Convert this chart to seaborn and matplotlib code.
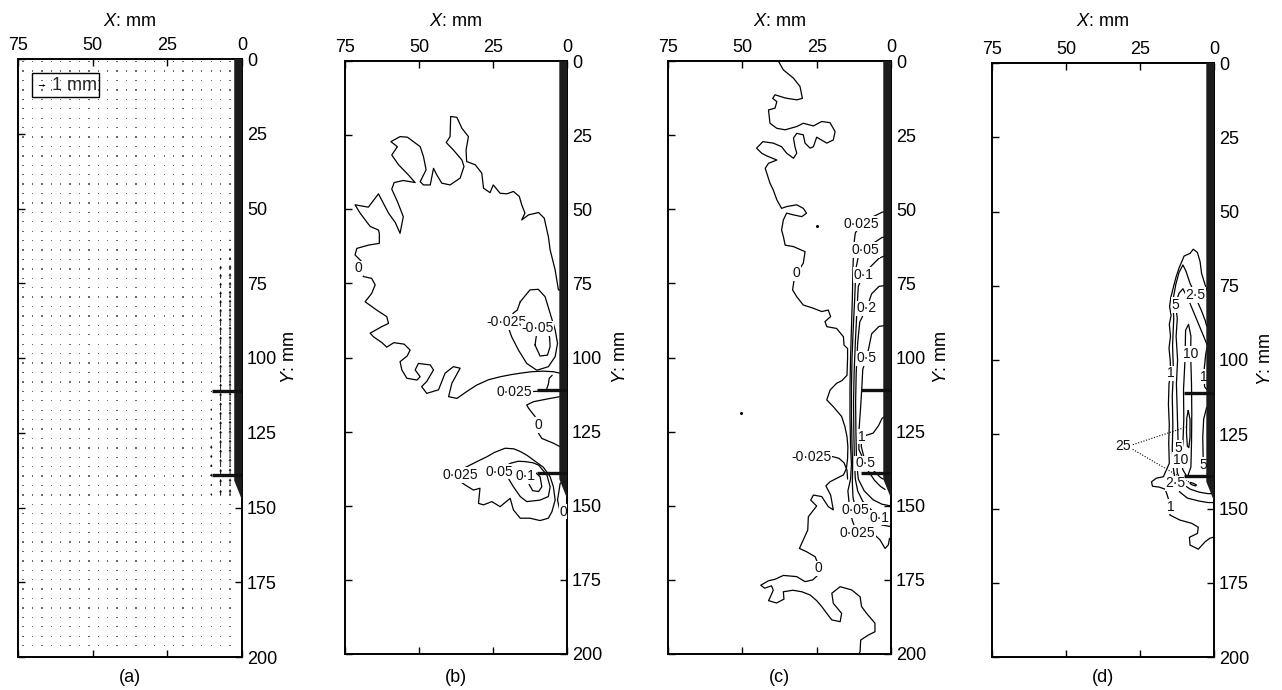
import numpy as np
import pandas as pd
import matplotlib
matplotlib.use("Agg")
import matplotlib.pyplot as plt
from matplotlib.patches import Polygon, Rectangle
import seaborn as sns

sns.set_theme(style="white")
plt.rcParams["font.family"] = ["Liberation Sans", "DejaVu Sans"]
plt.rcParams["mathtext.fontset"] = "custom"
plt.rcParams["mathtext.it"] = "Liberation Sans:italic"
plt.rcParams["mathtext.rm"] = "Liberation Sans"

# ---------------- axes / labels ----------------
X_TICKS = [75, 50, 25, 0]
Y_TICKS = [0, 25, 50, 75, 100, 125, 150, 175, 200]
PANEL_NAMES = ["(a)", "(b)", "(c)", "(d)"]

# wall (thick bar) and the two anchors, mm
WALL_X = [0.0, 2.6, 2.6, 0.0]
WALL_Y = [0.0, 0.0, 141.0, 147.5]
ANCHOR_Y = [111.0, 139.0]
ANCHOR_LEN = 10.0

# ---------------- panel (a): displacement vectors ----------------
GRID_X0, GRID_Y0, GRID_STEP, N_COLS, N_ROWS = 4.0, 0.9, 3.15, 23, 63
WALL_ROW_FIRST = 19          # first grid row carrying visible arrows
DISP_COL_4MM = [0.2, 0.3, 0.4, 0.6, 0.8, 0.9, 1.0, 1.1, 1.2, 1.2, 1.3, 1.3, 1.3, 1.3,
                1.3, 1.3, 1.3, 1.3, 1.3, 1.3, 1.3, 1.3, 1.3, 1.3, 1.3, 1.2, 1.1, 0.9]
DISP_COL_7MM = [0.1, 0.2, 0.3, 0.5, 0.7, 0.8, 0.9, 1.0, 1.1, 1.1, 1.2, 1.2, 1.2, 1.2,
                1.2, 1.2, 1.2, 1.2, 1.2, 1.2, 1.2, 1.2, 1.2, 1.2, 1.2, 1.1, 1.0, 0.8]
DISP_COL_10MM = [0.0, 0.0, 0.0, 0.0, 0.0, 0.0, 0.0, 0.0, 0.0, 0.0, 0.0, 0.0, 0.0, 0.0,
                 0.0, 0.0, 0.1, 0.2, 0.3, 0.3, 0.3, 0.3, 0.4, 0.4, 0.4, 0.4, 0.3, 0.3]

# ---------------- panel (b): contour lines (x mm, y mm) ----------------
B_ZERO_RING = [(0.3, 105.4), (2.3, 105.3), (4.6, 104.8), (8.0, 104.6), (12.0, 104.8), (15.8, 105.3),
               (19.0, 105.8), (22.6, 106.5), (26.5, 107.5), (30.5, 109.3), (33.9, 111.5), (37.2, 113.8),
               (40.0, 113.2), (38.9, 108.7), (36.1, 103.6), (38.4, 103.1), (41.2, 105.3), (43.4, 110.9),
               (47.4, 112.1), (49.1, 109.8), (47.4, 108.1), (45.1, 104.2), (46.2, 102.5), (50.2, 102.0),
               (51.3, 104.2), (49.6, 106.5), (50.7, 107.6), (54.1, 107.0), (55.8, 104.2), (56.4, 101.4),
               (54.0, 99.5), (53.0, 97.5), (55.0, 95.5), (58.5, 95.0), (60.9, 96.5), (62.5, 95.0),
               (65.4, 93.0), (66.5, 91.8), (62.6, 89.6), (60.3, 88.5), (60.9, 86.2), (64.3, 84.0),
               (68.2, 81.2), (66.0, 78.4), (64.8, 75.5), (66.0, 73.3), (68.8, 72.7), (70.4, 69.9),
               (69.3, 67.7), (71.6, 65.4), (71.0, 63.2), (67.1, 62.1), (63.4, 61.5), (63.4, 58.1),
               (63.7, 57.0), (66.5, 55.8), (69.9, 51.3), (71.6, 48.5), (67.1, 49.3), (63.7, 44.8),
               (60.3, 51.3), (58.0, 54.5), (56.4, 58.1), (55.3, 52.5), (57.3, 47.4), (59.2, 43.2),
               (58.4, 41.0), (55.3, 40.3), (51.3, 41.0), (53.6, 38.4), (56.9, 35.0), (59.2, 31.7),
               (57.3, 28.9), (59.5, 27.2), (56.4, 25.5), (53.9, 25.7), (49.6, 28.9), (48.5, 32.2),
               (47.6, 36.7), (49.6, 40.7), (48.5, 41.8), (46.2, 41.8), (45.1, 36.2), (44.0, 38.4),
               (42.3, 41.2), (39.5, 41.8), (36.1, 39.5), (34.8, 35.6), (35.5, 33.4), (38.4, 30.0),
               (40.8, 27.5), (39.5, 25.5), (39.3, 18.7), (37.2, 19.0), (35.5, 22.7), (33.3, 25.5),
               (34.1, 30.0), (33.9, 33.9), (31.0, 35.0), (28.8, 37.8), (28.2, 42.9), (26.0, 44.4),
               (24.9, 41.8), (22.6, 44.6), (20.3, 44.8), (18.1, 44.0), (16.1, 45.7), (15.3, 48.5),
               (14.2, 51.3), (15.3, 53.6), (13.0, 51.9), (9.6, 51.1), (7.7, 53.0), (6.8, 57.0),
               (6.3, 59.2), (5.7, 63.7), (4.0, 70.5), (2.9, 77.2), (0.3, 77.5)]
B_NEG025 = [(15.8, 81.2), (12.5, 77.2), (9.7, 77.0), (7.4, 79.5), (5.7, 85.1), (4.0, 90.7), (3.2, 95.2),
            (4.0, 99.7), (6.3, 103.1), (10.2, 104.3), (13.6, 102.0), (16.4, 97.5), (18.7, 93.0),
            (20.5, 88.0), (18.1, 85.0), (16.8, 84.0), (15.8, 81.2)]
B_NEG05 = [(10.8, 95.8), (10.4, 93.0), (10.0, 90.2), (8.0, 89.5), (5.9, 93.0), (5.7, 96.3), (6.6, 99.2),
           (9.1, 99.5), (10.8, 95.8)]
B_P025_ANCHOR = [(14.0, 111.6), (10.0, 111.4), (7.0, 111.0), (6.3, 109.0), (6.0, 107.0), (5.0, 106.0)]
B_ZERO_2 = [(0.3, 113.2), (2.3, 113.2), (5.7, 113.8), (11.3, 114.9), (13.6, 116.0), (13.0, 117.1),
            (10.8, 119.9), (9.6, 122.8), (9.6, 125.6), (8.5, 127.3), (4.6, 128.9), (2.3, 130.1), (0.3, 130.3)]
B_P025_LOW = [(35.0, 137.4), (31.6, 135.7), (29.4, 134.6), (27.1, 133.5), (24.5, 132.0), (20.9, 130.6),
              (18.0, 130.8), (15.8, 131.7), (13.5, 133.0), (11.3, 134.6), (8.0, 137.0), (5.7, 140.2),
              (4.6, 143.6), (4.0, 148.1), (5.1, 152.0), (6.3, 154.2), (9.1, 155.0), (12.5, 154.2),
              (15.8, 154.2), (18.1, 151.4), (19.2, 147.5), (22.6, 150.3), (25.4, 148.6), (28.2, 149.7),
              (29.9, 149.2), (29.4, 144.1), (31.6, 144.7), (34.4, 143.0), (36.5, 141.5), (37.5, 140.0),
              (36.5, 138.3), (35.0, 137.4)]
B_P05 = [(21.5, 139.5), (21.0, 137.0), (19.2, 135.7), (16.5, 135.0), (14.2, 135.1), (11.5, 135.5),
         (9.6, 136.3), (6.8, 139.6), (5.7, 143.6), (6.3, 146.9), (9.1, 148.1), (13.6, 148.6), (15.8, 146.9),
         (18.1, 143.6), (19.8, 140.8), (21.5, 139.5)]
B_P1 = [(13.8, 141.0), (12.0, 139.0), (11.3, 138.2), (9.1, 140.2), (8.5, 143.6), (9.6, 145.2),
        (11.6, 144.9), (13.0, 142.4), (13.8, 141.0)]
B_ZERO_3 = [(0.3, 141.5), (2.3, 142.4), (3.2, 148.1), (2.3, 152.0), (0.6, 154.2)]
B_LABELS = [("0", 70.4, 69.9), ("-0·025", 20.5, 88.0), ("-0·05", 10.0, 90.2), ("0·025", 17.8, 111.7),
            ("0", 9.6, 122.8), ("0·025", 36.1, 139.6), ("0·05", 22.9, 138.5), ("0·1", 13.9, 140.0),
            ("0", 1.2, 152.0)]

# ---------------- panel (c) ----------------
C_ZERO = [(37.9, 0.0), (36.2, 3.0), (32.8, 5.8), (30.6, 8.6), (29.8, 12.6), (31.7, 13.1), (35.5, 12.5),
          (39.0, 11.4), (39.8, 12.6), (38.4, 13.7), (39.0, 15.9), (41.2, 16.5), (40.7, 21.0), (38.4, 22.7),
          (35.6, 23.2), (31.7, 22.1), (29.5, 21.0), (26.1, 21.9), (23.3, 20.4), (20.5, 20.8), (18.8, 23.8),
          (19.4, 26.6), (21.6, 27.7), (25.0, 25.7), (26.1, 28.9), (27.2, 29.4), (28.9, 27.7), (29.5, 24.9),
          (31.7, 24.4), (32.8, 26.0), (32.3, 28.9), (31.7, 31.1), (32.8, 32.8), (35.1, 31.1), (36.8, 28.9),
          (39.6, 27.7), (43.1, 27.2), (45.2, 29.4), (43.5, 31.1), (41.8, 32.0), (38.4, 33.4), (41.2, 34.5),
          (42.3, 36.2), (40.7, 41.2), (39.6, 43.5), (38.4, 46.8), (36.8, 49.7), (35.1, 49.1), (31.7, 48.5),
          (29.5, 49.7), (28.4, 51.3), (30.0, 52.5), (32.8, 51.9), (35.1, 51.3), (36.2, 53.6), (36.8, 57.0),
          (36.2, 59.2), (35.6, 62.1), (32.8, 62.6), (28.9, 64.3), (29.5, 68.2), (30.6, 69.9), (31.7, 71.6),
          (32.6, 73.9), (33.1, 77.2), (31.7, 79.5), (29.5, 82.3), (26.1, 83.4), (23.3, 84.5), (21.1, 84.0),
          (20.3, 86.2), (22.2, 87.9), (21.6, 89.6), (18.3, 90.2), (16.0, 93.0), (15.8, 95.8), (14.6, 97.0),
          (14.6, 100.0), (14.8, 106.0), (16.5, 107.8), (18.3, 108.7), (20.5, 111.0), (21.6, 114.3),
          (19.4, 116.6), (16.6, 119.9), (15.5, 123.3), (14.8, 126.7), (14.5, 130.1), (14.6, 134.0),
          (15.0, 137.5), (16.0, 139.6), (20.5, 141.9), (21.9, 143.3), (20.3, 146.4), (19.4, 151.4),
          (21.1, 150.3), (23.3, 146.9), (26.1, 146.4), (27.0, 148.1), (25.0, 150.1), (27.8, 153.7),
          (28.0, 158.2), (29.5, 161.5), (30.8, 164.4), (28.4, 165.5), (25.5, 167.2), (24.4, 170.0),
          (24.4, 171.1), (24.6, 173.4), (26.3, 175.0), (28.9, 175.6), (31.7, 173.9), (36.2, 173.5),
          (39.0, 174.8), (41.2, 175.3), (43.8, 176.8), (42.5, 177.8), (40.2, 177.0), (39.6, 178.5),
          (40.7, 181.0), (41.2, 182.0), (38.5, 182.8), (36.0, 181.5), (36.2, 179.0), (33.0, 178.5),
          (30.0, 179.0), (27.2, 180.1), (25.0, 182.0), (23.3, 184.0), (21.6, 186.3), (19.9, 188.5),
          (17.1, 189.1), (16.6, 186.3), (19.4, 182.9), (19.9, 179.5), (17.1, 177.3), (13.2, 178.4),
          (10.4, 180.7), (9.9, 184.0), (8.2, 186.3), (5.4, 189.6), (5.4, 192.5), (7.6, 193.6),
          (10.2, 195.3), (10.4, 199.2), (10.8, 200.0)]
C_P025 = [(0.3, 50.5), (3.0, 51.0), (6.0, 52.5), (9.9, 54.9), (12.0, 58.0), (12.5, 62.0), (12.8, 70.0),
          (13.0, 80.0), (13.3, 90.0), (13.6, 100.0), (13.8, 110.0), (13.8, 120.0), (13.6, 130.0),
          (13.3, 136.0), (13.6, 141.0), (14.5, 145.0), (14.0, 150.0), (13.0, 155.0), (11.5, 159.1),
          (7.5, 159.5), (5.4, 159.9), (3.7, 161.5), (2.0, 164.4), (0.9, 163.2), (0.5, 161.0)]
C_P05 = [(0.3, 59.5), (3.0, 59.5), (6.0, 61.5), (8.7, 63.7), (11.0, 66.0), (11.8, 70.0), (12.2, 80.0),
         (12.7, 90.0), (13.1, 100.0), (13.3, 110.0), (13.3, 120.0), (13.1, 130.0), (12.9, 137.0),
         (13.0, 142.0), (12.8, 147.0), (11.9, 151.4), (9.0, 153.0), (6.0, 155.0), (3.0, 156.5), (0.3, 157.0)]
C_P1 = [(0.3, 65.0), (4.0, 66.5), (7.5, 70.0), (9.3, 72.2), (11.0, 76.0), (11.5, 85.0), (12.0, 95.0),
        (12.4, 105.0), (12.6, 115.0), (12.5, 125.0), (12.3, 135.0), (12.0, 141.0), (11.2, 145.0),
        (9.5, 148.5), (6.5, 151.5), (3.8, 154.0), (0.3, 155.0)]
C_P2 = [(0.3, 75.5), (4.0, 76.0), (6.5, 78.5), (8.2, 83.4), (10.5, 88.0), (11.2, 95.0), (11.7, 105.0),
        (11.9, 115.0), (11.8, 125.0), (11.6, 135.0), (11.0, 141.0), (9.0, 145.0), (6.0, 148.0),
        (3.0, 149.5), (0.3, 150.0)]
C_P5 = [(0.3, 89.0), (4.0, 89.5), (6.5, 92.0), (8.2, 100.3), (9.5, 104.0), (9.8, 110.0), (10.3, 118.0),
        (10.8, 125.0), (10.8, 131.0), (8.7, 135.7), (7.5, 138.5), (5.5, 141.5), (3.5, 143.5), (2.0, 144.5)]
C_P1_0 = [(0.3, 119.0), (3.0, 120.5), (4.2, 123.0), (6.0, 125.5), (9.8, 126.7), (10.0, 130.0),
          (9.0, 134.0), (7.5, 136.5), (5.5, 138.5), (3.5, 140.5), (2.6, 141.0)]
C_NEG025 = [(19.8, 133.4), (17.5, 134.0), (15.8, 135.5), (14.8, 138.0), (14.6, 141.0)]
C_SPECKS_X = [50.4, 25.0]
C_SPECKS_Y = [118.6, 55.6]
C_LABELS = [("0·025", 9.9, 54.9), ("0·05", 8.7, 63.7), ("0·1", 9.3, 72.2), ("0·2", 8.2, 83.4),
            ("0·5", 8.2, 100.3), ("0", 31.7, 71.6), ("1", 9.8, 126.7), ("-0·025", 26.7, 133.7),
            ("0·5", 8.7, 135.7), ("0·05", 11.9, 151.4), ("0·1", 3.8, 154.0), ("0·025", 11.3, 159.1),
            ("0", 24.4, 171.1)]

# ---------------- panel (d) ----------------
D_P1_OUTER = [(0.3, 77.5), (2.2, 77.0), (3.0, 74.7), (4.2, 70.8), (4.7, 66.9), (5.6, 63.8), (7.0, 62.7),
              (8.1, 64.1), (10.1, 65.0), (10.9, 66.9), (11.8, 69.0), (12.8, 72.0), (13.6, 75.0),
              (14.6, 79.0), (15.0, 82.0), (14.5, 85.0), (15.1, 88.0), (14.7, 92.0), (15.2, 96.0),
              (14.8, 100.0), (14.6, 104.5), (15.2, 108.0), (15.4, 115.0), (15.1, 122.0), (15.3, 128.0),
              (15.1, 134.8), (17.1, 139.3), (19.5, 139.8), (21.1, 141.0), (20.8, 142.5), (18.5, 142.8),
              (16.5, 143.5), (15.8, 145.5), (14.6, 149.4), (14.9, 152.2), (11.5, 153.9), (7.5, 155.0),
              (5.3, 156.3), (5.6, 158.4), (8.3, 159.7), (8.1, 162.3), (5.3, 163.7), (3.0, 161.2),
              (1.4, 160.0), (0.3, 159.7)]
D_P2_5 = [(0.3, 90.0), (2.5, 88.5), (3.0, 86.6), (4.2, 83.5), (5.3, 81.0), (6.2, 78.1), (8.1, 74.2),
          (9.5, 70.0), (10.5, 68.0), (11.8, 70.5), (12.9, 74.5), (13.9, 80.0), (13.6, 86.0), (14.0, 95.0),
          (13.7, 104.0), (14.1, 112.0), (13.9, 122.0), (14.1, 130.0), (13.8, 136.0), (13.0, 141.5),
          (11.5, 144.5), (9.0, 146.5), (5.0, 147.5), (2.0, 148.0), (0.3, 148.0)]
D_P5 = [(0.3, 100.0), (1.5, 97.0), (3.5, 92.0), (6.0, 86.0), (8.5, 80.0), (10.5, 76.0), (11.8, 77.5),
        (12.5, 79.5), (13.0, 81.5), (12.4, 86.0), (12.8, 92.0), (12.3, 100.0), (12.7, 108.0),
        (12.4, 118.0), (12.2, 125.0), (12.1, 129.5), (12.6, 134.0), (12.4, 138.0), (11.0, 141.5),
        (8.0, 143.5), (5.0, 144.5), (2.0, 145.0), (0.3, 145.0)]
D_P1_WALL = [(0.3, 93.0), (2.0, 94.0), (2.8, 98.0), (3.3, 103.0), (3.3, 105.6), (3.2, 109.0), (1.5, 111.0)]
D_P5_WALL = [(0.3, 115.0), (2.5, 116.0), (3.5, 120.0), (3.8, 126.0), (3.7, 131.0), (3.6, 135.4),
             (2.5, 138.0), (0.3, 139.0)]
D_P10 = [(8.6, 88.0), (9.6, 90.0), (9.8, 100.0), (10.3, 110.0), (10.2, 120.0), (10.5, 128.0), (11.3, 133.7),
         (10.5, 137.0), (9.0, 139.5), (7.8, 136.0), (7.6, 128.0), (7.5, 118.0), (7.6, 108.0), (7.9, 98.0),
         (7.8, 92.0), (8.6, 88.0)]
D_P25_UP = [(8.7, 117.0), (9.2, 119.5), (9.3, 124.5), (9.0, 129.0), (8.5, 129.5), (8.1, 126.0), (8.1, 120.0),
            (8.7, 117.0)]
D_P25_LOW = [(8.1, 141.2), (7.0, 141.5), (5.9, 142.1), (6.3, 142.4), (7.5, 142.0), (8.1, 141.6)]
D_POINTER_X = [[28.3, 9.2], [28.3, 7.3]]
D_POINTER_Y = [[128.8, 122.5], [129.6, 141.8]]
D_LABELS = [("2·5", 6.2, 78.1), ("5", 13.0, 81.5), ("10", 7.9, 98.0), ("1", 14.6, 104.5), ("1", 3.3, 105.6),
            ("5", 12.1, 129.5), ("10", 11.3, 133.7), ("5", 3.6, 135.4), ("2·5", 13.0, 141.5),
            ("1", 14.6, 149.4), ("25", 30.7, 129.0)]

B_LINES = [B_ZERO_RING, B_NEG025, B_NEG05, B_P025_ANCHOR, B_ZERO_2, B_P025_LOW, B_P05, B_P1, B_ZERO_3]
C_LINES = [C_ZERO, C_P025, C_P05, C_P1, C_P2, C_P5, C_P1_0, C_NEG025]
D_LINES = [D_P1_OUTER, D_P2_5, D_P5, D_P1_WALL, D_P5_WALL, D_P10, D_P25_UP, D_P25_LOW]


def lines_frame(lines):
    rows = []
    for i, line in enumerate(lines):
        for j, (x, y) in enumerate(line):
            rows.append({"line": i, "order": j, "x": x, "y": y})
    return pd.DataFrame(rows)


# ---------------- figure ----------------
W, H = 1282, 690
fig = plt.figure(figsize=(W / 100, H / 100), dpi=100)
fig.patch.set_facecolor("white")
# left, top, right, bottom in pixels; offset of Y label from the right spine
PANELS = [(18, 59, 242, 657, 45), (345, 61, 567, 654, 51), (668, 61, 891, 654, 49), (992, 63, 1214, 657, 50)]
axes = []
for (l, t, r, b, yoff) in PANELS:
    ax = fig.add_axes([l / W, 1 - b / H, (r - l) / W, (b - t) / H])
    axes.append(ax)

for k, ax in enumerate(axes):
    l, t, r, b, yoff = PANELS[k]
    wpx, hpx = r - l, b - t
    ax.set_facecolor("white")
    for s in ax.spines.values():
        s.set_color("black")
        s.set_linewidth(1.4)
        s.set_visible(True)
    ax.set_xticks(X_TICKS)
    ax.set_xticklabels([str(v) for v in X_TICKS])
    ax.set_yticks(Y_TICKS)
    ax.set_yticklabels([str(v) for v in Y_TICKS])
    ax.tick_params(axis="x", direction="in", length=5, width=1.0, color="black", top=True, bottom=True,
                   labeltop=True, labelbottom=False, pad=3.6, labelsize=13, labelcolor="black")
    ax.tick_params(axis="y", direction="in", length=5, width=1.0, color="black", left=True, right=True,
                   labelleft=False, labelright=True, pad=3.6, labelsize=13, labelcolor="black")
    ax.text(0.5, 1 + (t - 21) / hpx, r"$X$: mm", transform=ax.transAxes, ha="center", va="center",
            fontsize=13, color="black")
    ax.text(1 + (yoff + 2) / wpx, 0.5, r"$Y$: mm", transform=ax.transAxes, rotation=90, ha="center",
            va="center", fontsize=13, color="black")
    ax.text(0.5, -(678 - b) / hpx, PANEL_NAMES[k], transform=ax.transAxes, ha="center", va="center",
            fontsize=13, color="black")
    # wall bar and anchors
    ax.add_patch(Polygon(np.column_stack([WALL_X, WALL_Y]), closed=True, facecolor="#1c1c1c",
                         edgecolor="none", zorder=6))
    for ay in ANCHOR_Y:
        ax.plot([ANCHOR_LEN, 0], [ay, ay], color="#111111", lw=2.4, solid_capstyle="butt", zorder=6)

# ---- panel (a): vectors
ax = axes[0]
gx = GRID_X0 + GRID_STEP * np.arange(N_COLS)
gy = GRID_Y0 + GRID_STEP * np.arange(N_ROWS)
GX, GY = np.meshgrid(gx, gy)
dots = pd.DataFrame({"x": GX.ravel(), "y": GY.ravel()})
sns.scatterplot(data=dots, x="x", y="y", ax=ax, s=0.9, color="#6a6a6a", edgecolor="none", marker="s",
                legend=False, zorder=2)
n_w = len(DISP_COL_4MM)
wall_rows = gy[WALL_ROW_FIRST:WALL_ROW_FIRST + n_w]
qx = np.concatenate([np.full(n_w, gx[0]), np.full(n_w, gx[1]), np.full(n_w, gx[2])])
qy = np.concatenate([wall_rows, wall_rows, wall_rows])
qv = np.concatenate([DISP_COL_4MM, DISP_COL_7MM, DISP_COL_10MM])
keep = qv > 0
Q = ax.quiver(qx[keep], qy[keep], np.zeros(keep.sum()), -qv[keep], angles="xy", scale_units="xy",
              scale=0.45, width=0.004, headwidth=3.2, headlength=3.2, headaxislength=2.8,
              color="black", zorder=4)
ax.quiverkey(Q, 66.0, 8.7, 1, "1 mm", labelpos="E", coordinates="data", labelsep=0.07,
             fontproperties={"size": 13, "family": "Liberation Sans"}, color="black")
ax.add_patch(Rectangle((47.9, 4.7), 22.4, 8.0, facecolor="none", edgecolor="black", lw=1.0, zorder=5))


def draw_contours(ax, lines, labels, fs=10):
    df = lines_frame(lines)
    sns.lineplot(data=df, x="x", y="y", units="line", estimator=None, sort=False, color="black",
                 linewidth=0.9, ax=ax, legend=False, zorder=2)
    for s, x, y in labels:
        ax.text(x, y, s, ha="center", va="center", fontsize=fs, color="#111111", zorder=3, clip_on=True,
                bbox=dict(boxstyle="square,pad=0.05", facecolor="white", edgecolor="none"))


draw_contours(axes[1], B_LINES, B_LABELS)
draw_contours(axes[2], C_LINES, C_LABELS)
axes[2].scatter(C_SPECKS_X, C_SPECKS_Y, s=1.5, color="black", zorder=2)
draw_contours(axes[3], D_LINES, D_LABELS)
for px, py in zip(D_POINTER_X, D_POINTER_Y):
    axes[3].plot(px, py, color="black", lw=0.8, ls=(0, (1, 1.5)), zorder=2)

for ax in axes:
    ax.set_xlim(75, 0)
    ax.set_ylim(200, 0)
    ax.set_xlabel("")
    ax.set_ylabel("")

fig.savefig("out.png", dpi=100, facecolor="white")
